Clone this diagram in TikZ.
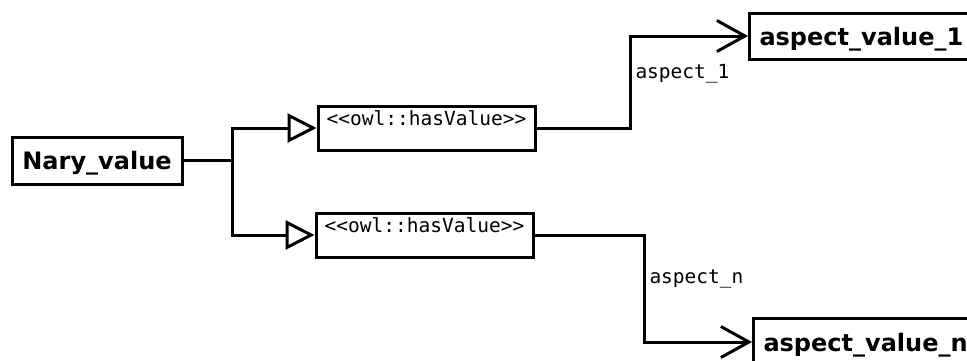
\documentclass[tikz,border=0pt]{standalone}
\usepackage{fontspec}
\setsansfont{DejaVu Sans}
\setmonofont{DejaVu Sans Mono}
\usetikzlibrary{arrows.meta}
\begin{document}
\begin{tikzpicture}[x=1pt,y=-1pt,line width=3pt,
  clsbox/.style={draw,rectangle,font=\sffamily\bfseries\fontsize{24}{27}\selectfont,
    text height=20pt,text depth=2pt,minimum height=47pt},
  relbox/.style={draw,rectangle,font=\ttfamily\fontsize{19.5}{21}\selectfont,
    minimum width=217pt,inner xsep=0pt,inner ysep=3pt,text height=16pt,text depth=22pt},
  rolename/.style={font=\ttfamily\fontsize{19.5}{21}\selectfont,anchor=base west,inner sep=0pt},
  gen/.style={-{Triangle[open,length=29pt,width=29pt]}},
  assoc/.style={-{Straight Barb[length=28pt,width=31pt]}}]
\useasboundingbox (0,0) rectangle (967,360);
\clip (0,0) rectangle (967,360);
\node[clsbox,minimum width=170pt] (nary) at (97,160.5) {Nary\_value};
\node[relbox] (has1) at (426.5,128) {<{}<owl::hasValue>{}>};
\node[relbox] (has2) at (424.5,235) {<{}<owl::hasValue>{}>};
\node[clsbox,anchor=west,text width=240pt,inner xsep=10pt,align=left,minimum height=46pt] (val1) at (748,36) {aspect\_value\_1};
\node[clsbox,anchor=west,text width=240pt,inner xsep=10pt,align=left,minimum height=48pt] (valn) at (752,342) {aspect\_value\_n};
\coordinate (fork) at (232,160.5);
\draw (nary.east) -- (fork);
\draw[gen] (fork) |- (has1.west);
\draw[gen] (fork) |- (has2.west);
\draw[assoc] (has1.east) -- ++(94,0) |- (val1.west);
\draw[assoc] (has2.east) -- ++(110,0) |- (valn.west);
\node[rolename] (role1) at (634,78) {aspect\_1};
\node[rolename] (rolen) at (648,283) {aspect\_n};
\end{tikzpicture}
\end{document}
